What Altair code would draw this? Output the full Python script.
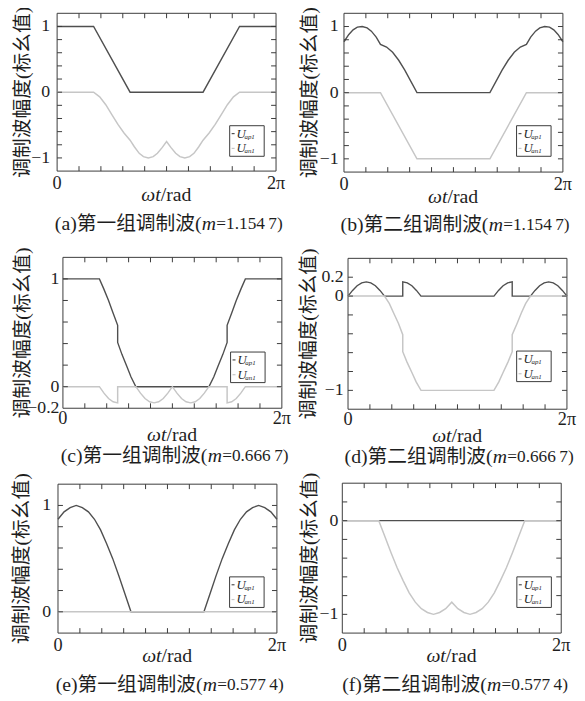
import altair as alt
import pandas as pd

# ---------------- data (angle in degrees: 0 .. 360 = 0 .. 2π) ----------------
# (a) group 1, m = 1.1547
a_ap_t = [0, 60, 120, 240, 300, 360]
a_ap_v = [1, 1, 0, 0, 1, 1]
a_an_t = [0, 60, 70, 80, 90, 100, 110, 120, 127, 135, 142, 150, 158, 165, 173, 180,
          187, 195, 202, 210, 218, 225, 233, 240, 250, 260, 270, 280, 290, 300, 360]
a_an_v = [0, 0, -0.07, -0.19, -0.34, -0.49, -0.62, -0.73, -0.83, -0.93, -0.98, -1.0, -0.98, -0.93, -0.84, -0.75,
          -0.84, -0.93, -0.98, -1.0, -0.98, -0.93, -0.83, -0.73, -0.62, -0.49, -0.34, -0.19, -0.07, 0, 0]

# (b) group 2, m = 1.1547
b_ap_t = [0, 8, 15, 22, 30, 38, 45, 53, 60, 70, 80, 90, 100, 110, 120,
          240, 250, 260, 270, 280, 290, 300, 307, 315, 322, 330, 338, 345, 352, 360]
b_ap_v = [0.77, 0.88, 0.95, 0.99, 1.0, 0.98, 0.93, 0.84, 0.73, 0.69, 0.61, 0.49, 0.34, 0.17, 0,
          0, 0.17, 0.34, 0.49, 0.61, 0.69, 0.73, 0.84, 0.93, 0.98, 1.0, 0.99, 0.95, 0.88, 0.77]
b_an_t = [0, 60, 120, 240, 300, 360]
b_an_v = [0, 0, -1, -1, 0, 0]

# (c) group 1, m = 0.6667
c_ap_t = [0, 60, 67, 75, 82, 90, 90, 97, 105, 112, 120,
          240, 248, 255, 263, 270, 270, 278, 285, 293, 300, 360]
c_ap_v = [1, 1, 0.91, 0.8, 0.69, 0.57, 0.41, 0.3, 0.19, 0.09, 0,
          0, 0.09, 0.19, 0.3, 0.41, 0.57, 0.69, 0.8, 0.91, 1, 1]
c_an_t = [0, 60, 67.5, 75, 82.5, 90, 90, 120, 127.5, 135, 142.5, 150, 157.5, 165, 172.5, 180,
          187.5, 195, 202.5, 210, 217.5, 225, 232.5, 240, 270, 270, 277.5, 285, 292.5, 300, 360]
c_an_v = [0, 0, -0.06, -0.11, -0.14, -0.15, 0, 0, -0.06, -0.11, -0.14, -0.15, -0.14, -0.11, -0.06, 0,
          -0.06, -0.11, -0.14, -0.15, -0.14, -0.11, -0.06, 0, 0, -0.15, -0.14, -0.11, -0.06, 0, 0]

# (d) group 2, m = 0.6667
d_ap_t = [0, 7.5, 15, 22.5, 30, 37.5, 45, 52.5, 60, 90, 90, 97.5, 105, 112.5, 120,
          240, 247.5, 255, 262.5, 270, 270, 300, 307.5, 315, 322.5, 330, 337.5, 345, 352.5, 360]
d_ap_v = [0, 0.06, 0.11, 0.14, 0.15, 0.14, 0.11, 0.06, 0, 0, 0.15, 0.14, 0.11, 0.06, 0,
          0, 0.06, 0.11, 0.14, 0.15, 0, 0, 0.06, 0.11, 0.14, 0.15, 0.14, 0.11, 0.06, 0]
d_an_t = [0, 60, 68, 75, 83, 90, 90, 97, 105, 112, 120,
          240, 248, 255, 263, 270, 270, 278, 285, 292, 300, 360]
d_an_v = [0, 0, -0.08, -0.18, -0.29, -0.41, -0.59, -0.7, -0.81, -0.91, -1,
          -1, -0.91, -0.81, -0.7, -0.59, -0.41, -0.29, -0.18, -0.08, 0, 0]

# (e) group 1, m = 0.5774
e_ap_t = [0, 10, 20, 30, 40, 50, 60, 70, 80, 90, 100, 110, 120,
          240, 250, 260, 270, 280, 290, 300, 310, 320, 330, 340, 350, 360]
e_ap_v = [0.87, 0.94, 0.98, 1.0, 0.98, 0.94, 0.87, 0.77, 0.64, 0.5, 0.34, 0.17, 0,
          0, 0.17, 0.34, 0.5, 0.64, 0.77, 0.87, 0.94, 0.98, 1.0, 0.98, 0.94, 0.87]
e_an_t = [0, 360]
e_an_v = [0, 0]

# (f) group 2, m = 0.5774
f_ap_t = [0, 360]
f_ap_v = [0, 0]
f_an_t = [0, 60, 70, 80, 90, 100, 110, 120, 130, 140, 150, 160, 170, 180,
          190, 200, 210, 220, 230, 240, 250, 260, 270, 280, 290, 300, 360]
f_an_v = [0, 0, -0.17, -0.34, -0.5, -0.64, -0.77, -0.87, -0.94, -0.98, -1.0, -0.98, -0.94, -0.87,
          -0.94, -0.98, -1.0, -0.98, -0.94, -0.87, -0.77, -0.64, -0.5, -0.34, -0.17, 0, 0]

# axis ticks and tick labels
x_ticks = [36, 72, 108, 144, 180, 216, 252, 288, 324]
x_lab_v = [0, 360]
x_lab_s = ["0", "2π"]
yt_sym = [-1.0, -0.8, -0.6, -0.4, -0.2, 0, 0.2, 0.4, 0.6, 0.8, 1.0]
yt_pos = [0, 0.2, 0.4, 0.6, 0.8, 1.0]
yt_neg = [-1.0, -0.8, -0.6, -0.4, -0.2, 0, 0.2]
yl_a_v, yl_a_s = [-1, 0, 1], ["−1", "0", "1"]
yl_c_v, yl_c_s = [-0.2, 0, 1], ["−0.2", "0", "1"]
yl_d_v, yl_d_s = [-1, 0, 0.2], ["−1", "0", "0.2"]
yl_e_v, yl_e_s = [0, 1], ["0", "1"]
yl_f_v, yl_f_s = [-1, 0], ["−1", "0"]

y_title = "调制波幅度(标幺值)"
x_title_it = "ωt"
x_title_rest = "/rad"
legend_names = ["ap1", "an1"]
captions = [("(a)第一组调制波(", "=1.154\u20097)"), ("(b)第二组调制波(", "=1.154\u20097)"),
            ("(c)第一组调制波(", "=0.666\u20097)"), ("(d)第二组调制波(", "=0.666\u20097)"),
            ("(e)第一组调制波(", "=0.577\u20094)"), ("(f)第二组调制波(", "=0.577\u20094)")]

# ---------------- styles ----------------
DARK = "#4f4f4f"
LIGHT = "#c6c6c6"
FRAME = "#3a3a3a"
TXT = "#1e1e1e"
SERIF = "Liberation Serif"
CJK = "Liberation Serif, Noto Sans CJK SC"
W = 222
one = pd.DataFrame({"k": [0]})


def sdf(t, v):
    return pd.DataFrame({"t": t, "v": v, "i": list(range(len(t)))})


def txt(text, x, y, size=20, italic=False, align="center", font=SERIF, angle=0, color=TXT):
    kw = dict(text=text, font=font, fontSize=size, align=align, baseline="middle", color=color)
    if italic:
        kw["fontStyle"] = "italic"
    if angle:
        kw["angle"] = angle
    return alt.Chart(one).mark_text(**kw).encode(x=alt.value(x), y=alt.value(y))


def panel(idx, ap, an, ydom, ylab, yticks, box, leg, lpad, ytx, xldy, xdy, cdy):
    X0, Y0, H = box
    xs = alt.Scale(domain=[0, 360], range=[X0, X0 + W], nice=False, zero=False)
    ys = alt.Scale(domain=ydom, range=[Y0 + H, Y0], nice=False, zero=False)
    X = alt.X("t:Q", scale=xs, axis=None)
    Y = alt.Y("v:Q", scale=ys, axis=None)
    L = []
    # frame (plot area) through the scales
    fr = pd.DataFrame({"t": [0], "t2": [360], "v": [ydom[0]], "v2": [ydom[1]]})
    L.append(alt.Chart(fr).mark_rect(fill="white", stroke=FRAME, strokeWidth=1)
             .encode(x=X, x2="t2:Q", y=Y, y2="v2:Q"))
    # curves
    L.append(alt.Chart(sdf(*ap)).mark_line(color=DARK, strokeWidth=1.4)
             .encode(x=X, y=Y, order="i:Q"))
    L.append(alt.Chart(sdf(*an)).mark_line(color=LIGHT, strokeWidth=1.5)
             .encode(x=X, y=Y, order="i:Q"))
    # inward ticks on all four sides
    xt = pd.DataFrame({"t": x_ticks})
    L.append(alt.Chart(xt).mark_rule(color=FRAME, strokeWidth=1)
             .encode(x=X, y=alt.value(Y0 + H), y2=alt.value(Y0 + H - 5)))
    L.append(alt.Chart(xt).mark_rule(color=FRAME, strokeWidth=1)
             .encode(x=X, y=alt.value(Y0), y2=alt.value(Y0 + 5)))
    yt = pd.DataFrame({"v": yticks})
    L.append(alt.Chart(yt).mark_rule(color=FRAME, strokeWidth=1)
             .encode(y=Y, x=alt.value(X0), x2=alt.value(X0 + 5)))
    L.append(alt.Chart(yt).mark_rule(color=FRAME, strokeWidth=1)
             .encode(y=Y, x=alt.value(X0 + W - 5), x2=alt.value(X0 + W)))
    # tick labels
    xl = pd.DataFrame({"t": x_lab_v, "s": x_lab_s})
    L.append(alt.Chart(xl).mark_text(font=SERIF, fontSize=18.5, color=TXT, baseline="middle", align="center")
             .encode(x=X, y=alt.value(Y0 + H + xldy), text="s:N"))
    yv, ys_ = ylab
    yl = pd.DataFrame({"v": yv, "s": ys_})
    L.append(alt.Chart(yl).mark_text(font=SERIF, fontSize=18, color=TXT, baseline="middle", align="right")
             .encode(y=Y, x=alt.value(X0 - lpad), text="s:N"))
    # legend box
    bx, by = X0 + leg[0], Y0 + leg[1]
    L.append(alt.Chart(one).mark_rect(fill="white", stroke=FRAME, strokeWidth=1)
             .encode(x=alt.value(bx), x2=alt.value(bx + 35), y=alt.value(by), y2=alt.value(by + 31)))
    for k, (col, dy) in enumerate([(DARK, 8), (LIGHT, 23)]):
        L.append(alt.Chart(one).mark_rule(color=col, strokeWidth=1.2)
                 .encode(x=alt.value(bx + 2), x2=alt.value(bx + 5), y=alt.value(by + dy)))
        L.append(txt("U", bx + 7, by + dy, size=13, italic=True, align="left"))
        L.append(txt(legend_names[k], bx + 15, by + dy + 3, size=7, italic=True, align="left"))
    # x title  ωt/rad
    L.append(txt(x_title_it, X0 + 105, Y0 + H + xdy, italic=True, align="right"))
    L.append(txt(x_title_rest, X0 + 105, Y0 + H + xdy, align="left"))
    # caption
    c1, c3 = captions[idx]
    L.append(txt(c1, X0 + 146.5, Y0 + H + cdy, font=CJK, align="right"))
    L.append(txt("m", X0 + 154, Y0 + H + cdy, italic=True, align="center"))
    L.append(txt(c3, X0 + 161.5, Y0 + H + cdy, size=17.5, align="left"))
    # y title
    L.append(txt(y_title, X0 + ytx, Y0 + H / 2, font=CJK, angle=270))
    return L


layers = []
layers += panel(0, (a_ap_t, a_ap_v), (a_an_t, a_an_v), [-1.2, 1.2], (yl_a_v, yl_a_s), yt_sym,
                (49.8, 0.5, 160), (175, 114), 7, -34, 12, 24, 54)
layers += panel(1, (b_ap_t, b_ap_v), (b_an_t, b_an_v), [-1.2, 1.2], (yl_a_v, yl_a_s), yt_sym,
                (340.7, 0.5, 161), (175, 114), 5.5, -34, 12, 25, 54)
layers += panel(2, (c_ap_t, c_ap_v), (c_an_t, c_an_v), [-0.2, 1.2], (yl_c_v, yl_c_s), yt_pos,
                (55.7, 248, 153), (170, 96), 3.5, -40, 10, 27, 49)
layers += panel(3, (d_ap_t, d_ap_v), (d_an_t, d_an_v), [-1.2, 0.4], (yl_d_v, yl_d_s), yt_neg,
                (344.8, 249, 153), (171, 94), 4.5, -39, 10, 27, 49)
layers += panel(4, (e_ap_t, e_ap_v), (e_an_t, e_an_v), [-0.2, 1.2], (yl_e_v, yl_e_s), yt_pos,
                (50.7, 478, 151), (174, 94), 7, -36, 12, 23, 53)
layers += panel(5, (f_ap_t, f_ap_v), (f_an_t, f_an_v), [-1.2, 0.4], (yl_f_v, yl_f_s), yt_neg,
                (339, 477, 152), (177, 95), 4, -33, 12, 23, 53)

chart = (alt.layer(*layers)
         .resolve_scale(x="independent", y="independent")
         .properties(width=577, height=693, padding=0, background="white",
                     autosize=alt.AutoSizeParams(type="none"))
         .configure_view(strokeOpacity=0))

chart.save("out.html", embed_options={"renderer": "svg", "actions": False})
